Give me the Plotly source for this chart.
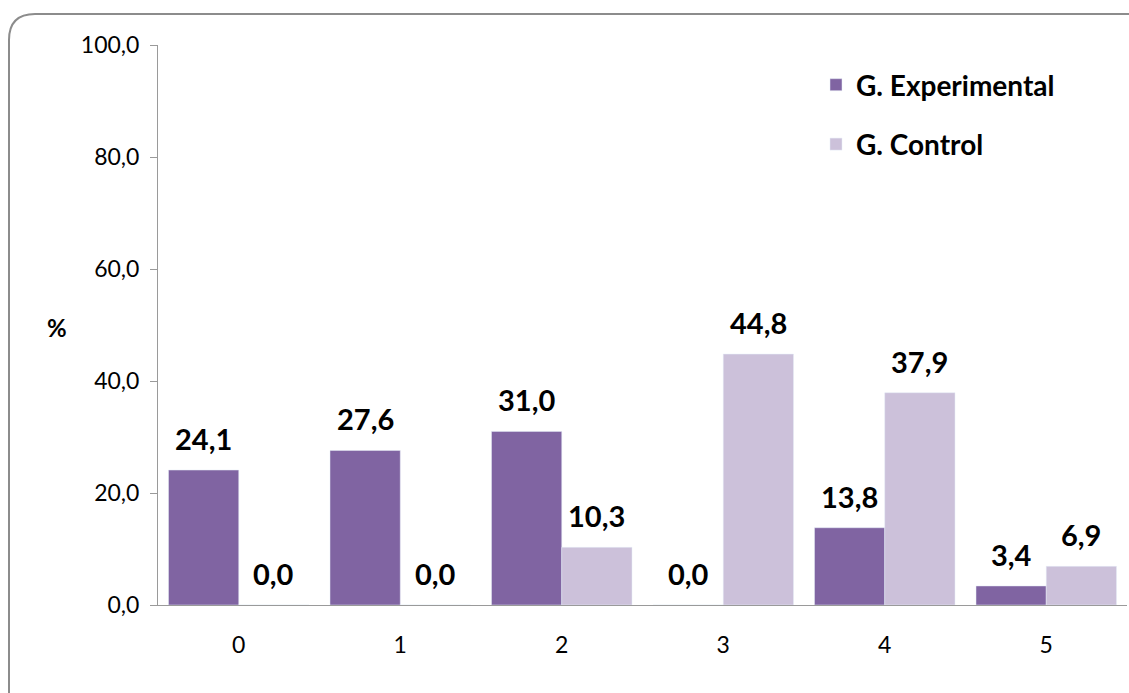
import plotly.graph_objects as go

categories = ["0", "1", "2", "3", "4", "5"]
experimental = [24.1, 27.6, 31.0, 0.0, 13.8, 3.4]
control = [0.0, 0.0, 10.3, 44.8, 37.9, 6.9]
y_ticks = [0, 20, 40, 60, 80, 100]

W, H = 1129, 693
L, R, T, B = 158, 2, 45, 88
pw, ph = W - L - R, H - T - B
GAP = 0.13


# pixel -> paper coords, for the rounded chart border
def px(x):
    return (x - L) / pw


def py(y):
    return (H - B - y) / ph


fig = go.Figure()
fig.add_trace(go.Bar(x=categories, y=experimental, name="G. Experimental",
                     marker_color="#8064A2", legendgroup="a"))
fig.add_trace(go.Bar(x=categories, y=control, name="G. Control",
                     marker_color="#CCC1DA", legendgroup="b"))

# value labels as annotations so there's room above the bars like the excel chart
half_bar = pw / len(categories) * (1 - GAP) / 4
labels = []
for vals, sh in [(experimental, -half_bar), (control, half_bar)]:
    for c, v in zip(categories, vals):
        labels.append(dict(x=c, y=v, text=f"<b>{v:.1f}</b>".replace(".", ","),
                           xshift=sh, yshift=12, yanchor="bottom", showarrow=False,
                           font=dict(size=29, color="black")))

r = 26
path = (f"M {px(9)},{py(690 + 40)} L {px(9)},{py(14 + r)} "
        f"Q {px(9)},{py(14)} {px(9 + r)},{py(14)} L {px(1160)},{py(14)}")

fig.update_layout(
    width=W, height=H,
    margin=dict(l=L, r=R, t=T, b=B),
    plot_bgcolor="white", paper_bgcolor="white",
    separators=",.",
    barmode="group", bargap=GAP, bargroupgap=0,
    font=dict(family="Lato", color="black", size=23),
    legend=dict(x=px(816), y=py(60), xanchor="left", yanchor="top",
                font=dict(size=28, weight="bold"), tracegroupgap=20,
                itemwidth=30, bgcolor="rgba(0,0,0,0)"),
    shapes=[dict(type="path", path=path, xref="paper", yref="paper",
                 line=dict(color="#8c8c8c", width=2), layer="below")],
    annotations=labels + [dict(text="<b>%</b>", x=px(45), y=py(327), xref="paper",
                               yref="paper", showarrow=False, font=dict(size=24))],
)
fig.update_yaxes(range=[0, 100], tickvals=y_ticks, tickformat=".1f",
                 showgrid=False, zeroline=False, showline=True, linecolor="#9a9a9a",
                 linewidth=1, ticks="outside", ticklen=7, tickcolor="#9a9a9a",
                 ticklabelstandoff=6)
fig.update_xaxes(showgrid=False, showline=True, linecolor="#9a9a9a", linewidth=1,
                 ticks="", ticklabelstandoff=19)

# page has a default body margin; drop it so the figure sits at 0,0
fig.write_html("out.html", config={"displayModeBar": False},
               post_script="document.body.style.margin='0';")
